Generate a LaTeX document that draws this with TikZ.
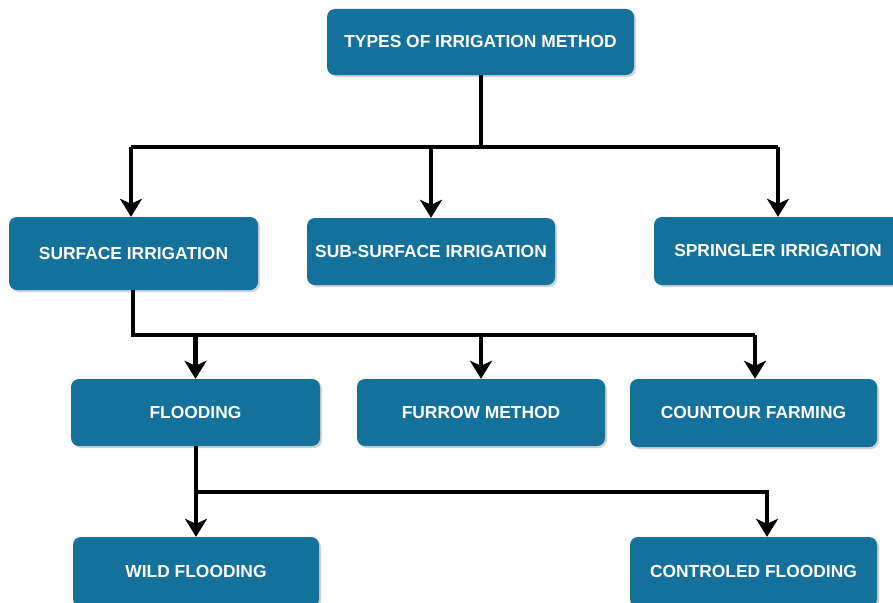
\documentclass[tikz,border=0pt]{standalone}
\usepackage{fontspec}
\setmainfont{Liberation Sans}
\usetikzlibrary{arrows.meta,shadows,calc}
\definecolor{boxblue}{RGB}{19,113,155}
\tikzset{
  box/.style={rectangle, rounded corners=8pt, fill=boxblue, draw=none,
    text=white, font=\fontsize{17.4}{19}\selectfont\bfseries,
    inner sep=0pt, drop shadow={shadow xshift=2pt, shadow yshift=-2pt, opacity=0.35, fill=gray}},
  conn/.style={line width=4.2pt, draw=black},
  arr/.style={conn, -{Stealth[length=18pt,width=22pt,inset=5pt]}}
}
\begin{document}
\begin{tikzpicture}[x=1pt,y=-1pt]
\useasboundingbox (0,0) rectangle (893,602);
\clip (0,0) rectangle (893,602);
\fill[white] (0,0) rectangle (893,602);
% nodes
\node[box, minimum width=307pt, minimum height=66pt] (top) at (480.5,42) {TYPES OF IRRIGATION METHOD};
\node[box, minimum width=249pt, minimum height=73pt] (surf) at (133.5,253.5) {SURFACE IRRIGATION};
\node[box, minimum width=248pt, minimum height=67pt] (sub) at (431,251.5) {SUB-SURFACE IRRIGATION};
\node[box, minimum width=248pt, minimum height=68pt] (spr) at (778,251) {SPRINGLER IRRIGATION};
\node[box, minimum width=249pt, minimum height=67pt] (flo) at (195.5,412.5) {FLOODING};
\node[box, minimum width=248pt, minimum height=67pt] (fur) at (481,412.5) {FURROW METHOD};
\node[box, minimum width=247pt, minimum height=68pt] (cou) at (753.5,413) {COUNTOUR FARMING};
\node[box, minimum width=246pt, minimum height=70pt] (wild) at (196,572) {WILD FLOODING};
\node[box, minimum width=247pt, minimum height=70pt] (ctl) at (753.5,572) {CONTROLED FLOODING};
% hubs
\coordinate (h1) at (481,147);
\coordinate (h2) at (133,335);
\coordinate (h3) at (196,492);
% top level
\draw[conn] ([xshift=0.5pt]top.south) -- (h1);
\draw[conn] (131,147) -- (778,147);
\draw[arr] (h1 -| 131,0) -- ([xshift=-2.5pt]surf.north);
\draw[arr] (h1 -| sub.north) -- (sub.north);
\draw[arr] (h1 -| spr.north) -- (spr.north);
% surface level
\draw[conn] ([xshift=-0.5pt]surf.south) -- (h2) -- (755,335);
\draw[arr] (h2 -| flo.north) -- (flo.north);
\draw[arr] (h2 -| fur.north) -- (fur.north);
\draw[arr] (h2 -| 755,0) -- ([xshift=1.5pt]cou.north);
% flooding level
\draw[arr] ([xshift=0.5pt]flo.south) -- (wild.north);
\draw[conn] (h3) -- (767,492);
\draw[arr] (767,490) -- ([xshift=13.5pt]ctl.north);
\end{tikzpicture}
\end{document}
